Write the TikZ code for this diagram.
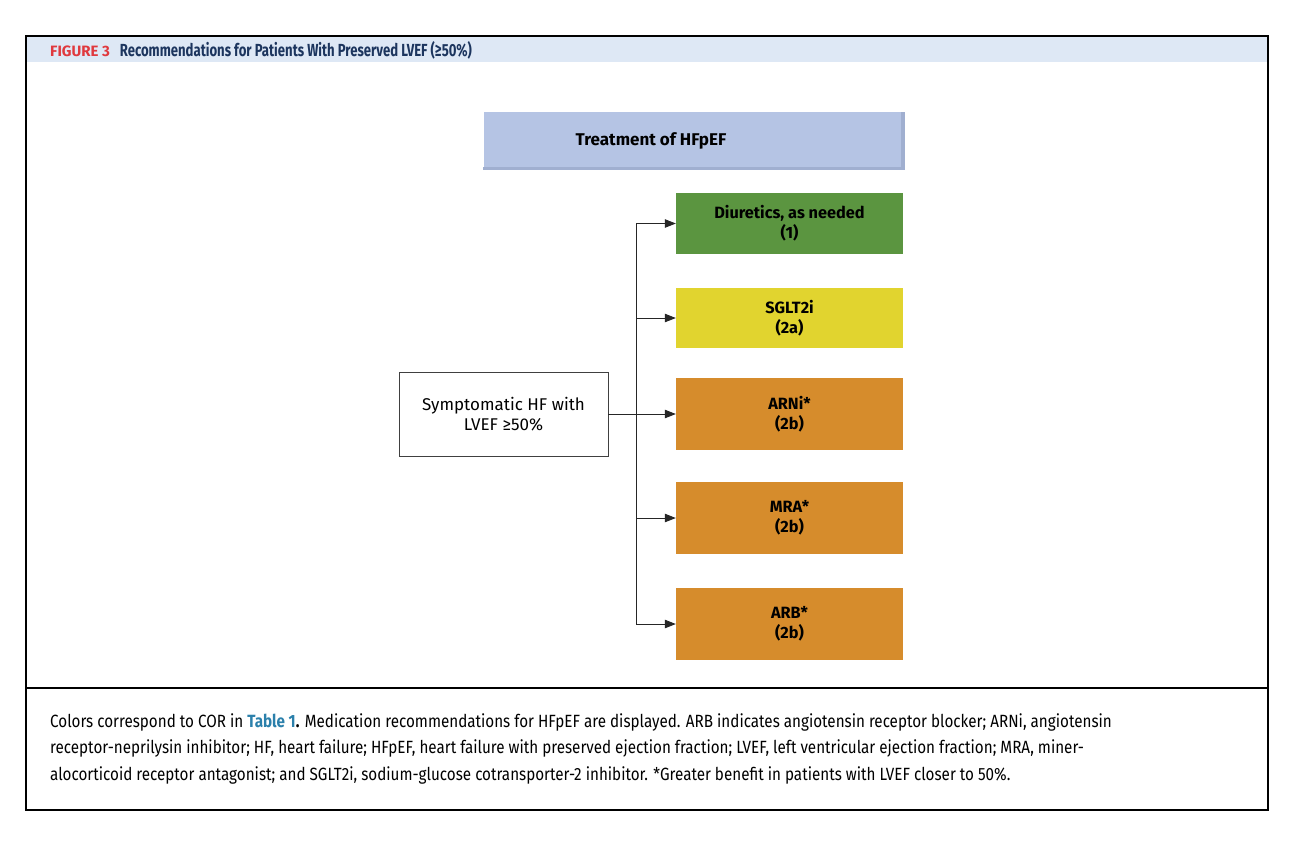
\documentclass[tikz,border=0pt]{standalone}
\usepackage{fontspec}
\setmainfont{Fira Sans}
\newfontfamily\capfont[FakeStretch=0.86]{Fira Sans}
\newfontfamily\ttlfont[FakeStretch=0.75]{Fira Sans}
\usepackage{tikz}
\usetikzlibrary{calc,arrows.meta,positioning}
\definecolor{bandbg}{HTML}{DEE8F5}
\definecolor{figred}{HTML}{E0393E}
\definecolor{navy}{HTML}{1C355E}
\definecolor{tblue}{HTML}{2B80AB}
\definecolor{topbg}{HTML}{B5C4E4}
\definecolor{topdk}{HTML}{A0AFD0}
\definecolor{corone}{HTML}{5B9540}
\definecolor{cortwoa}{HTML}{E1D42F}
\definecolor{cortwob}{HTML}{D68C2C}
\tikzset{
  rec/.style={inner sep=0pt,minimum width=227pt,align=center,font=\fontsize{16.3}{20}\selectfont\bfseries},
  gr/.style={rec,fill=corone,minimum height=61pt},
  yl/.style={rec,fill=cortwoa,minimum height=60pt},
  og/.style={rec,fill=cortwob,minimum height=72pt},
  pt/.style={draw=black!75,thick,fill=white,inner sep=0pt,minimum width=209pt,minimum height=84pt,align=center,font=\fontsize{17}{20}\selectfont},
  ar/.style={-{Triangle[length=11pt,width=8.5pt]},black!85,thick},
  ln/.style={black!85,thick}
}
\begin{document}
\begin{tikzpicture}[x=1pt,y=-1pt]
\useasboundingbox (0,0) rectangle (1305,841);
% frame and header band
\fill[bandbg] (26,36) rectangle (1268,62);
\draw[line width=2pt] (26,36) rectangle (1268,810);
\draw[line width=2pt] (26,688) -- (1268,688);
\node[anchor=west,inner sep=0pt,font=\bfseries] (ttl) at (50,50.5)
  {{\fontsize{15}{20}\selectfont\color{figred}FIGURE 3}\hspace{10pt}{\ttlfont\fontsize{17.5}{20}\selectfont\color{navy}Recommendations for Patients With Preserved LVEF (≥50\%)}};
% treatment box
\node[fill=topbg,minimum width=421pt,minimum height=58pt,inner sep=0pt] (top) at (694,141) {};
\fill[topdk] ($(top.north east)+(-4,0)$) rectangle (top.south east);
\fill[topdk] ($(top.south west)+(0,-3)$) rectangle (top.south east);
\node[font=\fontsize{17}{20}\selectfont\bfseries,inner sep=0pt] (toplbl) at (651,141) {Treatment of HFpEF};
% recommendations
\node[gr] (diu) at (789.5,223.5) {Diuretics, as needed\\(1)};
\node[yl] (sglt) at (789.5,318) {SGLT2i\\(2a)};
\node[og] (arni) at (789.5,414) {ARNi*\\(2b)};
\node[og] (mra) at (789.5,518) {MRA*\\(2b)};
\node[og] (arb) at (789.5,624) {ARB*\\(2b)};
\node[pt] (hf) at (503.5,414) {Symptomatic HF with\\LVEF ≥50\%};
% connectors
\coordinate (jx) at (636,414);
\draw[ln] (diu.west -| jx) -- (arb.west -| jx);
\draw[ar] (hf.east) -- (arni.west);
\foreach \b in {diu,sglt,mra,arb}{\draw[ar] (\b.west -| jx) -- (\b.west);}
% caption
\node[anchor=north west,inner sep=0pt,align=left,font=\capfont\fontsize{17.7}{26.5}\selectfont] (cap) at (50,713)
  {Colors correspond to COR in {\bfseries\color{tblue}Table 1}\textbf{.} Medication recommendations for HFpEF are displayed. ARB indicates angiotensin receptor blocker; ARNi, angiotensin\\
   receptor-neprilysin inhibitor; HF, heart failure; HFpEF, heart failure with preserved ejection fraction; LVEF, left ventricular ejection fraction; MRA, miner-\\
   alocorticoid receptor antagonist; and SGLT2i, sodium-glucose cotransporter-2 inhibitor. *Greater benefit in patients with LVEF closer to 50\%.};
\end{tikzpicture}
\end{document}
